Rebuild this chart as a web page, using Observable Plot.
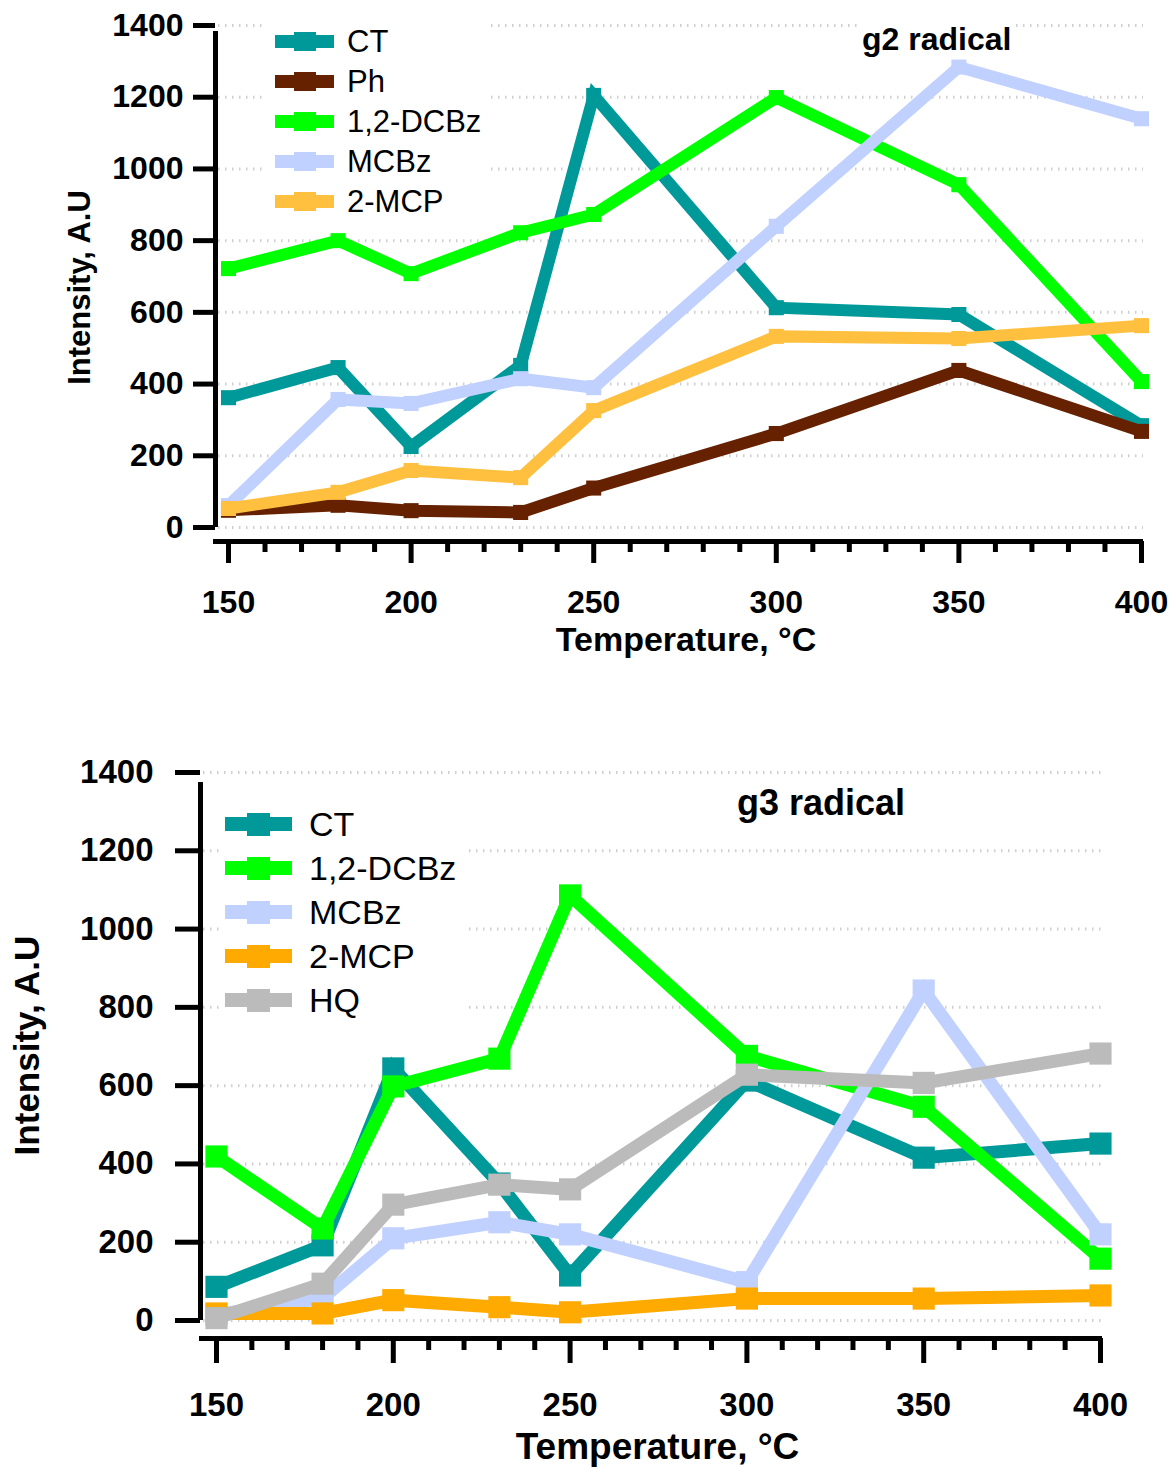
<!DOCTYPE html>
<html>
<head>
<meta charset="utf-8">
<script src="https://cdn.jsdelivr.net/npm/d3@7"></script>
<script src="https://cdn.jsdelivr.net/npm/@observablehq/plot@0.6"></script>
<style>
  html, body { margin: 0; padding: 0; background: #fff; }
  #wrap { position: relative; width: 1173px; height: 1469px; background: #fff; font-family: "Liberation Sans", Arial, sans-serif; overflow: hidden; }
  .abs { position: absolute; }
  .legend { position: absolute; background: #fff; }
  .row { position: absolute; display: flex; align-items: center; }
  .title { position: absolute; background: #fff; font-weight: bold; line-height: 1; white-space: nowrap; color: #000; }
</style>
</head>
<body>
<div id="wrap">
  <div id="top" class="abs" style="left:0;top:0"></div>
  <div id="bot" class="abs" style="left:0;top:740px"></div>
</div>
<script>
// ---------- data ----------
const temps = [150, 180, 200, 230, 250, 300, 350, 400];
const xMajor = [150, 200, 250, 300, 350, 400];
const xMinor = [160, 170, 180, 190, 210, 220, 230, 240, 260, 270, 280, 290, 310, 320, 330, 340, 360, 370, 380, 390];
const yTicks = [0, 200, 400, 600, 800, 1000, 1200, 1400];

// g2 radical
const g2Names  = ["CT", "Ph", "1,2-DCBz", "MCBz", "2-MCP"];
const g2Colors = ["#009999", "#662200", "#00ff00", "#c0d0ff", "#ffc040"];
const g2_CT    = [362, 446, 226, 452, 1205, 613, 594, 284];
const g2_Ph    = [48, 62, 47, 42, 110, 262, 438, 268];
const g2_DCBz  = [722, 800, 708, 822, 873, 1199, 956, 407];
const g2_MCBz  = [61, 357, 346, 415, 390, 840, 1284, 1140];
const g2_MCP   = [53, 98, 159, 139, 326, 533, 527, 563];
const g2Values = [g2_CT, g2_Ph, g2_DCBz, g2_MCBz, g2_MCP];

// g3 radical
const g3Names  = ["CT", "1,2-DCBz", "MCBz", "2-MCP", "HQ"];
const g3Colors = ["#009999", "#00ff00", "#c0d0ff", "#ffaa00", "#bbbbbb"];
const g3_CT    = [86, 192, 644, 350, 115, 613, 416, 452];
const g3_DCBz  = [419, 235, 598, 669, 1086, 676, 546, 158];
const g3_MCBz  = [15, 57, 210, 251, 220, 98, 843, 220];
const g3_MCP   = [18, 18, 52, 34, 21, 56, 56, 64];
const g3_HQ    = [6, 94, 296, 347, 335, 628, 607, 682];
const g3Values = [g3_CT, g3_DCBz, g3_MCBz, g3_MCP, g3_HQ];

const xLabel = "Temperature, °C";
const yLabel = "Intensity, A.U";

// ---------- chart builder ----------
function makeChart(names, colors, values, c) {
  const marks = [];
  // dotted gridlines
  marks.push(Plot.ruleY(yTicks, {
    x1: temps[0], x2: temps[temps.length - 1], insetLeft: c.gridInsetLeft, insetRight: -2,
    stroke: "#cfcfcf", strokeWidth: 3, strokeDasharray: "1.5 5.5"
  }));
  names.forEach((name, i) => {
    const rows = temps.map((t, j) => ({t, v: values[i][j]}));
    marks.push(Plot.line(rows, {x: "t", y: "v", stroke: colors[i], strokeWidth: c.lineW,
      strokeLinejoin: "miter", strokeLinecap: "butt", strokeMiterlimit: 3}));
    marks.push(Plot.dot(rows, {x: "t", y: "v", symbol: "square", r: c.markR, fill: colors[i], stroke: "none"}));
  });
  // offset axis lines
  marks.push(Plot.ruleX([temps[0]], {y1: yTicks[0], y2: yTicks[yTicks.length - 1], dx: c.yAxisDx,
    insetBottom: c.yLineExt, strokeWidth: 5, stroke: "#000"}));
  marks.push(Plot.ruleY([yTicks[0]], {x1: temps[0], x2: temps[temps.length - 1], dy: c.xAxisDy,
    insetLeft: c.xLineExtL, insetRight: -2, strokeWidth: 5, stroke: "#000"}));
  // axes
  marks.push(Plot.axisY({ticks: yTicks, tickFormat: d3.format("d"), tickSize: c.yTickSize, tickPadding: c.yTickPad,
    dx: c.yAxisDx, strokeWidth: 5, fontSize: c.tickFont, fontWeight: "bold", fill: "#000", stroke: "#000", label: null}));
  marks.push(Plot.axisX({ticks: xMajor, tickFormat: d3.format("d"), tickSize: c.xTickSize, tickPadding: c.xTickPad,
    dy: c.xAxisDy, strokeWidth: 5, fontSize: c.tickFont, fontWeight: "bold", fill: "#000", stroke: "#000", label: null}));
  marks.push(Plot.axisX({ticks: xMinor, tickFormat: () => "", tickSize: c.xMinorSize,
    dy: c.xAxisDy, strokeWidth: 5, stroke: "#000", label: null}));
  // axis labels
  marks.push(Plot.text([xLabel], {frameAnchor: "bottom", text: d => d, textAnchor: "middle", lineAnchor: "middle",
    dx: c.xLabDx, dy: c.xLabDy, fontSize: c.xLabFont, fontWeight: "bold", fill: "#000"}));
  marks.push(Plot.text([yLabel], {frameAnchor: "left", text: d => d, rotate: -90, textAnchor: "middle", lineAnchor: "middle",
    dx: c.yLabDx, dy: c.yLabDy, fontSize: c.yLabFont, fontWeight: "bold", fill: "#000"}));

  return Plot.plot({
    width: 1173,
    height: c.height,
    marginTop: c.mt, marginBottom: c.mb, marginLeft: c.ml, marginRight: c.mr,
    x: {domain: [temps[0], temps[temps.length - 1]], axis: null},
    y: {domain: [yTicks[0], yTicks[yTicks.length - 1]], axis: null},
    style: {fontFamily: "'Liberation Sans', Arial, sans-serif", color: "#000", background: "#fff", overflow: "visible"},
    marks
  });
}

const topCfg = {height: 700, mt: 25, mb: 173, ml: 228, mr: 32,
  lineW: 12, markR: 8.5, gridInsetLeft: -10, yAxisDx: -13, yLineExt: -6, xAxisDy: 14, xLineExtL: -15,
  yTickSize: 22, yTickPad: 10, xTickSize: 22, xTickPad: 27, xMinorSize: 11, tickFont: 32,
  xLabDx: 1, xLabDy: 113, xLabFont: 34, yLabDx: -148, yLabDy: 11, yLabFont: 31};
const botCfg = {height: 729, mt: 32, mb: 149, ml: 216, mr: 73,
  lineW: 13, markR: 12.5, gridInsetLeft: -13, yAxisDx: -16, yLineExt: -10, xAxisDy: 18, xLineExtL: -17,
  yTickSize: 25, yTickPad: 22, xTickSize: 25, xTickPad: 29, xMinorSize: 12, tickFont: 33,
  xLabDx: -1, xLabDy: 127, xLabFont: 37, yLabDx: -189, yLabDy: -1, yLabFont: 35};

document.getElementById("top").append(makeChart(g2Names, g2Colors, g2Values, topCfg));
document.getElementById("bot").append(makeChart(g3Names, g3Colors, g3Values, botCfg));

// ---------- legends & titles (HTML overlays) ----------
const wrap = document.getElementById("wrap");
function legend(names, colors, L) {
  const box = document.createElement("div");
  box.className = "legend";
  Object.assign(box.style, {left: L.left + "px", top: L.top + "px", width: L.w + "px", height: L.h + "px"});
  names.forEach((n, i) => {
    const cy = L.firstY + i * L.step - L.top;
    const row = document.createElement("div");
    row.className = "row";
    Object.assign(row.style, {left: (L.swX - L.left) + "px", top: (cy - L.font / 2) + "px", height: L.font + "px"});
    const sw = document.createElement("div");
    Object.assign(sw.style, {position: "relative", width: L.swW + "px", height: L.font + "px", flex: "none"});
    const ln = document.createElement("div");
    Object.assign(ln.style, {position: "absolute", left: 0, width: L.swW + "px", top: (L.font - L.lineH) / 2 + "px", height: L.lineH + "px", background: colors[i]});
    const mk = document.createElement("div");
    Object.assign(mk.style, {position: "absolute", left: (L.swW - L.mkW) / 2 + "px", width: L.mkW + "px", top: (L.font - L.mkH) / 2 + "px", height: L.mkH + "px", background: colors[i]});
    sw.append(ln, mk);
    const tx = document.createElement("div");
    tx.textContent = n;
    Object.assign(tx.style, {marginLeft: (L.labX - L.swX - L.swW) + "px", fontSize: L.font + "px", lineHeight: L.font + "px", color: "#000", whiteSpace: "nowrap"});
    row.append(sw, tx);
    box.append(row);
  });
  wrap.append(box);
}
legend(g2Names, g2Colors, {left: 265, top: 18, w: 225, h: 202, firstY: 41, step: 40, swX: 275, swW: 59, lineH: 13, mkW: 22, mkH: 19, labX: 347, font: 31});
legend(g3Names, g3Colors, {left: 220, top: 798, w: 247, h: 224, firstY: 824, step: 44, swX: 225, swW: 67, lineH: 14, mkW: 23, mkH: 23, labX: 309, font: 34});

function title(text, left, baseline, fs) {
  const t = document.createElement("div");
  t.className = "title";
  t.textContent = text;
  Object.assign(t.style, {left: left + "px", top: (baseline - 0.8465 * fs) + "px", fontSize: fs + "px"});
  wrap.append(t);
}
title("g2 radical", 862, 50, 32);
title("g3 radical", 737, 815, 36);
</script>
</body>
</html>
